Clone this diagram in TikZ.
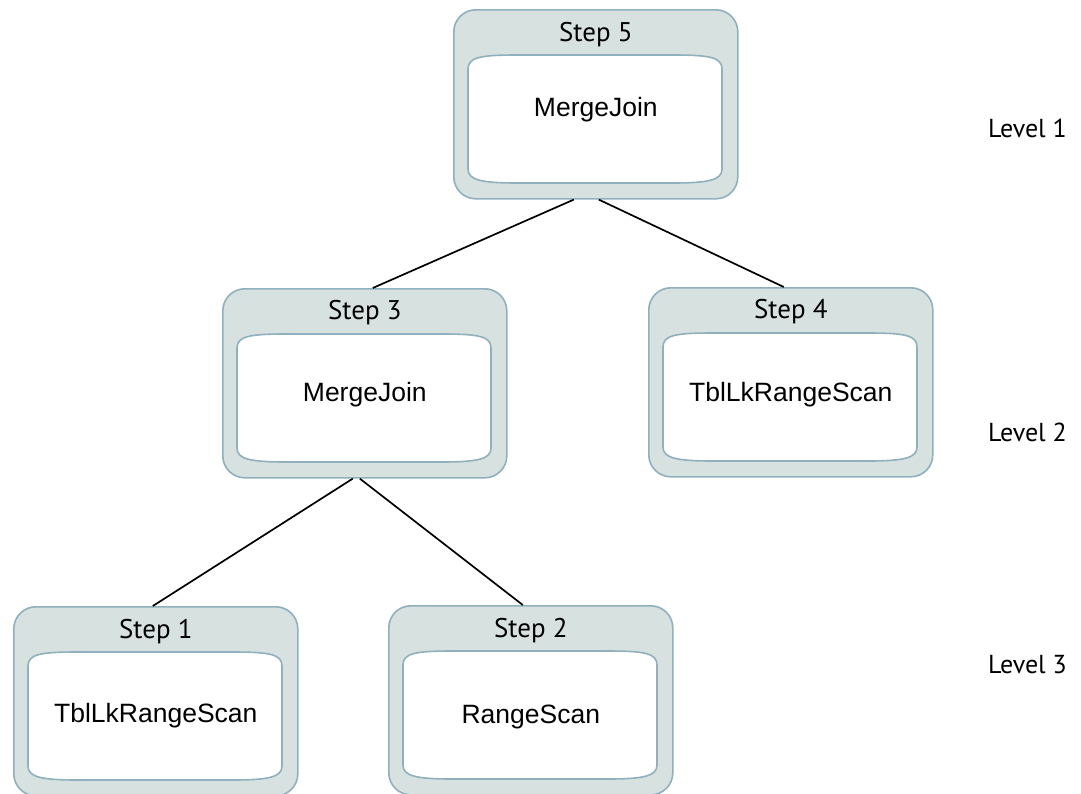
\documentclass[tikz,border=0pt]{standalone}
\usepackage{fontspec}
\setmainfont{Liberation Sans}
\newfontfamily\labelfont{PT Sans}
\definecolor{boxfill}{HTML}{D7E1E0}
\definecolor{boxline}{HTML}{8FB0BC}

% inner white panel of a step box, drawn in the box's local frame
\newcommand\steppanel[1]{%
  \begin{scope}[shift={(#1.north west)}]
    \draw[panel] (15,60) -- (15,160)
      .. controls (15,171) and (28,174) .. (65,174) -- (219,174)
      .. controls (256,174) and (269,171) .. (269,160) -- (269,60)
      .. controls (269,48) and (256,46) .. (219,46) -- (65,46)
      .. controls (28,46) and (15,48) .. cycle;
  \end{scope}}

\begin{document}
\begin{tikzpicture}[x=1pt,y=-1pt,
  stepframe/.style={draw=boxline, line width=1.6pt, fill=boxfill,
    rounded corners=22pt, minimum width=284pt, minimum height=189pt,
    anchor=north west, inner sep=0pt},
  panel/.style={draw=boxline, line width=1.6pt, fill=white},
  steptitle/.style={font=\labelfont\fontsize{27}{32}\selectfont, inner sep=0pt, anchor=base},
  opname/.style={font=\fontsize{26.5}{32}\selectfont, inner sep=0pt, anchor=base},
  levelname/.style={font=\labelfont\fontsize{26}{32}\selectfont, inner sep=0pt, anchor=base west},
  link/.style={line width=1.7pt, black}]
\useasboundingbox (0,0) rectangle (1081,793);

% step boxes
\node[stepframe] (s5) at (453,9) {};
\node[stepframe] (s3) at (222,288) {};
\node[stepframe] (s4) at (648,287) {};
\node[stepframe] (s1) at (13,606) {};
\node[stepframe] (s2) at (388,605) {};

\steppanel{s5}
\steppanel{s3}
\steppanel{s4}
\steppanel{s1}
\steppanel{s2}

% titles and operators
\node[steptitle] (t5) at ([yshift=-32pt]s5.north) {Step 5};
\node[steptitle] (t3) at ([yshift=-31pt]s3.north) {Step 3};
\node[steptitle] (t4) at ([yshift=-31pt]s4.north) {Step 4};
\node[steptitle] (t1) at ([yshift=-32pt]s1.north) {Step 1};
\node[steptitle] (t2) at ([yshift=-32pt]s2.north) {Step 2};

\node[opname] (o5) at ([yshift=-107pt]s5.north) {MergeJoin};
\node[opname] (o3) at ([yshift=-113pt]s3.north) {MergeJoin};
\node[opname] (o4) at ([yshift=-114pt]s4.north) {TblLkRangeScan};
\node[opname] (o1) at ([yshift=-116pt]s1.north) {TblLkRangeScan};
\node[opname] (o2) at ([yshift=-118pt]s2.north) {RangeScan};

% level captions
\node[levelname] (l1) at (988,137) {Level 1};
\node[levelname] (l2) at (988,441) {Level 2};
\node[levelname] (l3) at (988,673) {Level 3};

% tree edges
\draw[link] ([xshift=-22pt]s5.south) -- ([xshift=8pt]s3.north);
\draw[link] ([xshift=3pt]s5.south) -- ([xshift=-7pt]s4.north);
\draw[link] ([xshift=-12pt]s3.south) -- ([xshift=-3pt]s1.north);
\draw[link] ([xshift=-5pt]s3.south) -- ([xshift=-8pt]s2.north);
\end{tikzpicture}
\end{document}
